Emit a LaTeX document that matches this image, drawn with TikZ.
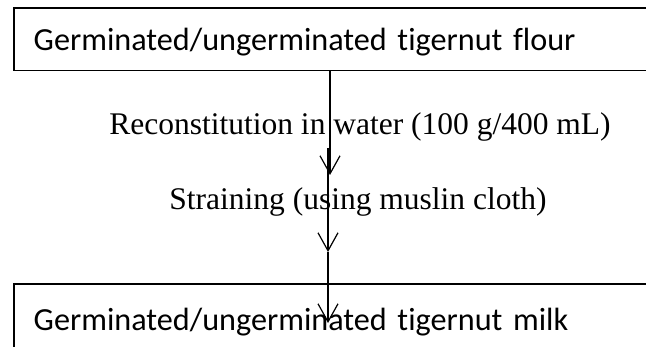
\documentclass[tikz,border=0pt]{standalone}
\usepackage{fontspec}
\setmainfont{Liberation Serif}
\newfontfamily\calibrifont[Ligatures=NoCommon,WordSpace=0.4]{Carlito}
\usetikzlibrary{arrows.meta,positioning,calc}
\newcommand\boxfont{\calibrifont\fontsize{32.2}{37}\selectfont}
\newcommand\stepfont{\fontsize{31.5}{37}\selectfont}
\tikzset{
  box/.style={draw=black,fill=white,line width=1.5pt,anchor=north west,align=left,text width=680pt,inner xsep=20pt,inner ysep=4pt,font=\boxfont},
  steptext/.style={anchor=base,inner sep=0pt,font=\stepfont},
  flow/.style={-{Straight Barb[length=18pt,width=20pt]},draw=black,line width=1.2pt}
}

\begin{document}
\begin{tikzpicture}[x=1pt,y=1pt]
        \useasboundingbox (0,0) rectangle (646,346);
        \clip (0,0) rectangle (646,346);

        \node[box,minimum height=62.5pt,text height=25pt,text depth=2pt] (flour) at (13,338.5) {Germinated/ungerminated tigernut flour};
        \node[box,minimum height=76pt] (milk) at (13,63) {Germinated/ungerminated tigernut milk};

        \node[steptext] (recon) at (360,211) {Reconstitution in water (100 g/400 mL)};
        \node[steptext] (strain) at (358,136) {Straining (using muslin cloth)};

        % arrow ends
        \coordinate (a1) at (330,171);
        \coordinate (b0) at (328,198);
        \coordinate (b1) at (328,94);
        \coordinate (c1) at (328,23);

        \draw[flow] (flour.south -| a1) -- (a1);
        \draw[flow] (b0) -- (b1);
        \draw[flow] (b1) -- (c1);
      \end{tikzpicture}
\end{document}
